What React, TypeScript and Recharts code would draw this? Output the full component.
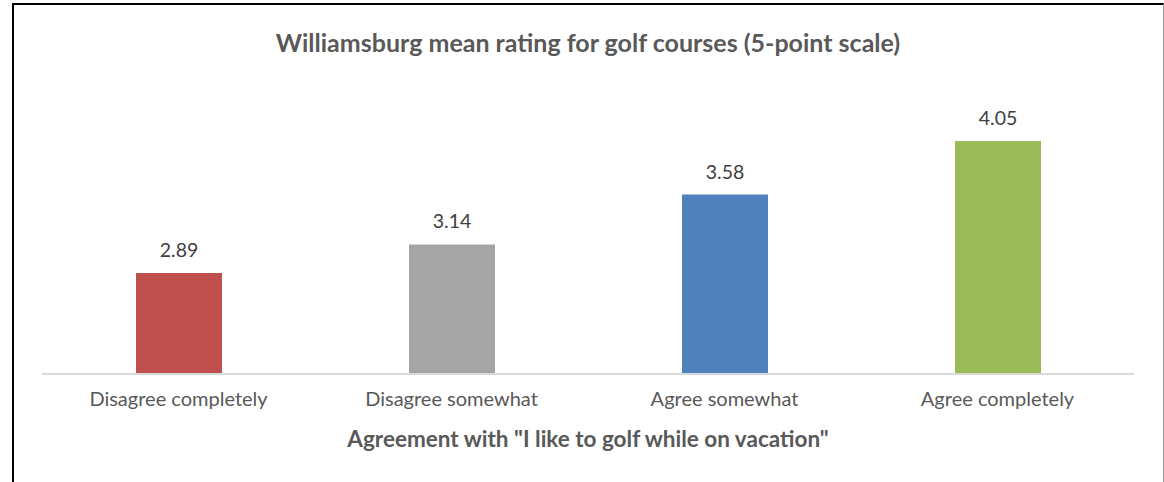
import React from 'react';
import { BarChart, Bar, Cell, XAxis, YAxis, LabelList } from 'recharts';

const categories = ['Disagree completely', 'Disagree somewhat', 'Agree somewhat', 'Agree completely'];
const meanRatings = [2.89, 3.14, 3.58, 4.05];
const barColors = ['#C0504D', '#A5A5A5', '#4F81BD', '#9BBB59'];

const chartTitle = 'Williamsburg mean rating for golf courses (5-point scale)';
const xAxisTitle = 'Agreement with "I like to golf while on vacation"';

const data = categories.map((name, i) => ({ name, rating: meanRatings[i] }));

const FONT = 'Lato, "Open Sans", sans-serif';

export default function App() {
    return (
        <div style={{ position: 'absolute', left: 0, top: 0, width: 1164, height: 482, background: '#fff', fontFamily: FONT }}>
            {/* frame: heavy left/top, light right, open bottom */}
            <div
                style={{
                    position: 'absolute',
                    left: 12,
                    top: 3,
                    width: 1152,
                    height: 479,
                    boxSizing: 'border-box',
                    borderLeft: '2px solid #000',
                    borderTop: '2px solid #000',
                    borderRight: '1px solid #999',
                }}
            />
            <div
                style={{
                    position: 'absolute',
                    left: 42,
                    top: 27,
                    width: 1092,
                    textAlign: 'center',
                    fontSize: 25,
                    fontWeight: 700,
                    color: '#595959',
                    lineHeight: '30px',
                }}
            >
                {chartTitle}
            </div>
            <div style={{ position: 'absolute', left: 0, top: 0 }}>
                <BarChart width={1164} height={482} data={data} margin={{ top: 90, right: 30, left: 42, bottom: 0 }}>
                    <XAxis
                        dataKey="name"
                        height={108}
                        axisLine={{ stroke: '#D9D9D9', strokeWidth: 2 }}
                        tickLine={false}
                        tickSize={6}
                        tickMargin={12}
                        tick={{ fill: '#595959', fontSize: 20, fontFamily: FONT }}
                        label={{
                            value: xAxisTitle,
                            position: 'insideBottom',
                            offset: 35,
                            fill: '#595959',
                            fontSize: 22.5,
                            fontWeight: 700,
                            fontFamily: FONT,
                        }}
                    />
                    <YAxis hide domain={[2, 4.5]} allowDataOverflow />
                    <Bar dataKey="rating" barSize={86} isAnimationActive={false}>
                        {data.map((entry, index) => (
                            <Cell key={`cell-${index}`} fill={barColors[index]} />
                        ))}
                        <LabelList
                            dataKey="rating"
                            position="top"
                            offset={16}
                            fill="#404040"
                            fontSize={19.5}
                            fontFamily={FONT}
                            formatter={(v: any) => Number(v).toFixed(2)}
                        />
                    </Bar>
                </BarChart>
            </div>
        </div>
    );
}
